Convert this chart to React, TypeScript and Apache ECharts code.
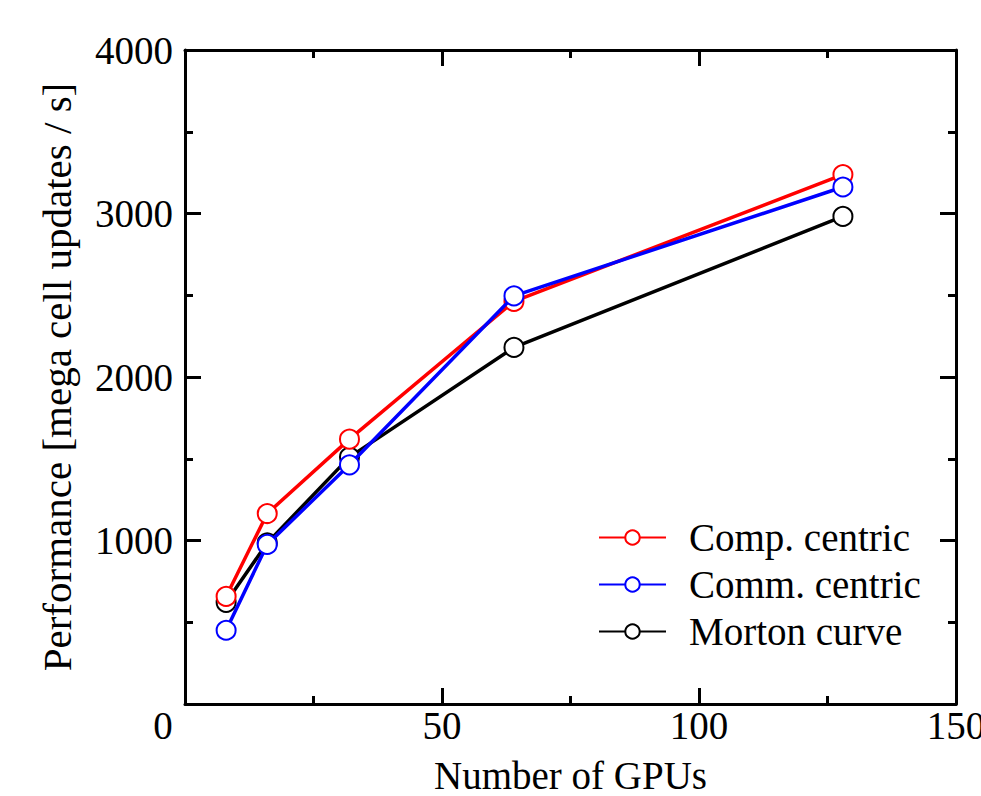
import React, { useEffect, useRef } from "react";
import * as echarts from "echarts";

const gpus = [8, 16, 32, 64, 128];
const compCentric = [658, 1165, 1620, 2462, 3238];
const commCentric = [451, 976, 1463, 2496, 3162];
const mortonCurve = [622, 985, 1510, 2181, 2982];
const seriesNames = ["Comp. centric", "Comm. centric", "Morton curve"];
const xTicks = [0, 50, 100, 150];
const yTicks = [1000, 2000, 3000, 4000];

const FONT = "'Liberation Serif', 'DejaVu Serif', serif";
const FS = 39;

export default function App() {
  const ref = useRef<HTMLDivElement>(null);
  useEffect(() => {
    if (!ref.current) return;
    const chart = echarts.init(ref.current, undefined, { renderer: "svg" });
    const axisCommon = {
      axisLine: { show: true, onZero: false, lineStyle: { color: "#000", width: 3 } },
      axisTick: { show: true, inside: true, length: 16, lineStyle: { color: "#000", width: 3 } },
      minorTick: { show: true, splitNumber: 2, length: 8, lineStyle: { color: "#000", width: 3 } },
      splitLine: { show: false },
      minorSplitLine: { show: false },
    };
    const mk = (x: number[], y: number[]) => x.map((v, i) => [v, y[i]]);
    const lineSeries = (name: string, color: string, data: number[], z: number) => ({
      name,
      type: "line",
      data: mk(gpus, data),
      symbol: "emptyCircle",
      symbolSize: 19,
      z,
      lineStyle: { color, width: 3.5 },
      itemStyle: { color, borderColor: color, borderWidth: 3.5 },
    });
    chart.setOption({
      animation: false,
      backgroundColor: "#fff",
      grid: { left: 185, right: 25, top: 50, bottom: 92, outerBoundsMode: "none", containLabel: false },
      legend: {
        orient: "vertical",
        left: 593,
        top: 512,
        data: seriesNames,
        itemWidth: 67,
        itemHeight: 18,
        itemGap: 6,
        textStyle: { fontFamily: FONT, fontSize: FS, color: "#000", padding: [0, 0, 0, 18], lineHeight: 41 },
      },
      xAxis: [
        {
          type: "value",
          min: 0,
          max: 150,
          interval: 50,
          ...axisCommon,
          axisLabel: {
            fontFamily: FONT,
            fontSize: FS,
            color: "#000",
            margin: 2,
            showMaxLabel: true,
            formatter: (v: number) => (xTicks.includes(v) ? (v === 0 ? "{z|0}" : String(v)) : ""),
            rich: { z: { fontFamily: FONT, fontSize: FS, color: "#000", padding: [0, 44, 0, 0] } },
          },
          name: "Number of GPUs",
          nameLocation: "middle",
          nameGap: 52,
          nameTextStyle: { fontFamily: FONT, fontSize: FS, color: "#000" },
        },
        {
          type: "value",
          position: "top",
          min: 0,
          max: 150,
          interval: 50,
          ...axisCommon,
          axisLabel: { show: false },
        },
      ],
      yAxis: [
        {
          type: "value",
          min: 0,
          max: 4000,
          interval: 1000,
          ...axisCommon,
          axisLabel: {
            fontFamily: FONT,
            fontSize: FS,
            color: "#000",
            margin: 12,
            showMinLabel: false,
            formatter: (v: number) => (yTicks.includes(v) ? String(v) : ""),
          },
          name: "Performance [mega cell updates / s]",
          nameLocation: "middle",
          nameGap: 108,
          nameTextStyle: { fontFamily: FONT, fontSize: 41, color: "#000" },
        },
        {
          type: "value",
          position: "right",
          min: 0,
          max: 4000,
          interval: 1000,
          ...axisCommon,
          axisLabel: { show: false },
        },
      ],
      series: [
        lineSeries(seriesNames[2], "#000000", mortonCurve, 2),
        lineSeries(seriesNames[0], "#ff0000", compCentric, 3),
        lineSeries(seriesNames[1], "#0000ff", commCentric, 4),
      ],
    });
    return () => chart.dispose();
  }, []);
  return <div ref={ref} style={{ width: 981, height: 796, position: "absolute", left: 0, top: 0 }} />;
}
